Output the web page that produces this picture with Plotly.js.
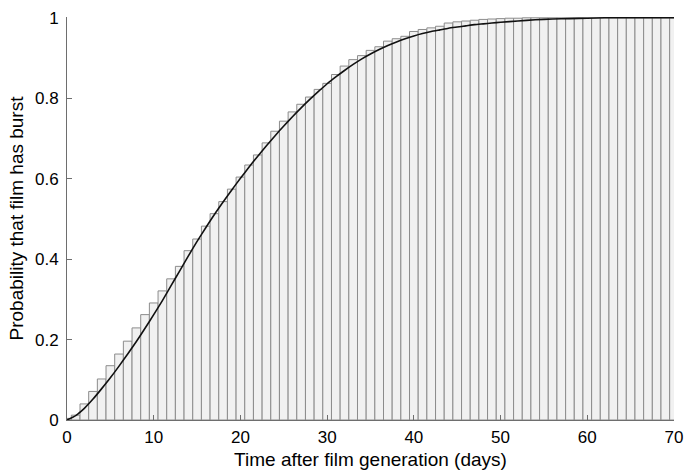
<!DOCTYPE html>
<html>
<head>
<meta charset="utf-8">
<script src="https://cdn.plot.ly/plotly-3.0.1.min.js"></script>
<style>html,body{margin:0;padding:0;background:#fff;}#chart{width:687px;height:470px;}</style>
</head>
<body>
<div id="chart"></div>
<script>
// Cumulative histogram: bin centre (days) and cumulative fraction burst
var binDays = [0,1,2,3,4,5,6,7,8,9,10,11,12,13,14,15,16,17,18,19,20,
  21,22,23,24,25,26,27,28,29,30,31,32,33,34,35,36,37,38,39,40,
  41,42,43,44,45,46,47,48,49,50,51,52,53,54,55,56,57,58,59,60,
  61,62,63,64,65,66,67,68,69,70];
var binCumFrac = [0.004,0.012,0.040,0.071,0.102,0.135,0.164,0.196,0.229,0.262,0.291,
  0.321,0.351,0.382,0.421,0.450,0.482,0.513,0.543,0.574,0.604,
  0.634,0.659,0.689,0.718,0.743,0.766,0.785,0.803,0.822,0.837,
  0.859,0.880,0.896,0.906,0.919,0.928,0.942,0.948,0.954,0.966,
  0.971,0.975,0.979,0.987,0.990,0.992,0.994,0.996,0.997,0.998,
  0.999,0.999,1,1,1,1,1,1,1,1,
  1,1,1,1,1,1,1,1,1,1];

// Fitted distribution curve
var fitDays = [0,1,2,3,4,5,6,7,8,9,10,11,12,13,14,15,16,17,18,19,20,
  21,22,23,24,25,26,27,28,29,30,31,32,33,34,35,36,37,38,39,40,
  41,42,43,44,45,46,47,48,49,50,52,54,56,58,60,62,66,70];
var fitCumFrac = [0,0.011,0.029,0.052,0.078,0.105,0.134,0.164,0.195,0.228,0.262,
  0.297,0.334,0.371,0.408,0.444,0.478,0.511,0.542,0.572,0.601,
  0.629,0.656,0.682,0.707,0.731,0.754,0.776,0.797,0.817,0.836,
  0.853,0.869,0.884,0.898,0.910,0.921,0.931,0.940,0.948,0.955,
  0.961,0.966,0.970,0.974,0.977,0.980,0.983,0.985,0.987,0.989,
  0.992,0.995,0.997,0.998,0.999,1,1,1];

var xTicks = [0,10,20,30,40,50,60,70];
var yTicks = [0,0.2,0.4,0.6,0.8,1];
var xTitle = 'Time after film generation (days)';
var yTitle = 'Probability that film has burst';

var axisColor = '#6e6e6e';
var font = 'Liberation Sans, Arial, Helvetica, sans-serif';

var traces = [
  {
    type: 'bar',
    x: binDays,
    y: binCumFrac,
    width: 1,
    marker: {color: '#f1f1f1', line: {color: '#8c8c8c', width: 1}},
    hoverinfo: 'x+y'
  },
  {
    type: 'scatter',
    mode: 'lines',
    x: fitDays,
    y: fitCumFrac,
    line: {color: '#111111', width: 1.6, shape: 'spline', smoothing: 0.6},
    hoverinfo: 'x+y'
  }
];

var layout = {
  width: 687,
  height: 470,
  margin: {l: 67, r: 13, t: 17, b: 50, pad: 0},
  paper_bgcolor: '#ffffff',
  plot_bgcolor: '#ffffff',
  showlegend: false,
  bargap: 0,
  font: {family: font, color: '#000000', size: 17},
  xaxis: {
    range: [0, 70],
    tickvals: xTicks,
    ticktext: xTicks.map(String),
    ticks: 'inside',
    ticklen: 5,
    tickcolor: axisColor,
    showline: true,
    linecolor: axisColor,
    linewidth: 1,
    showgrid: false,
    zeroline: false,
    mirror: false,
    tickfont: {family: font, size: 17, color: '#000'},
    ticklabelstandoff: 2,
    title: {text: xTitle, font: {family: font, size: 19, color: '#000'}, standoff: 6}
  },
  yaxis: {
    range: [0, 1.002],
    tickvals: yTicks,
    ticktext: yTicks.map(String),
    ticks: 'inside',
    ticklen: 5,
    tickcolor: axisColor,
    showline: true,
    linecolor: axisColor,
    linewidth: 1,
    showgrid: false,
    zeroline: false,
    mirror: false,
    tickfont: {family: font, size: 17, color: '#000'},
    ticklabelstandoff: 4,
    title: {text: yTitle, font: {family: font, size: 19, color: '#000'}, standoff: 6}
  }
};

Plotly.newPlot('chart', traces, layout, {displayModeBar: false, staticPlot: true});
</script>
</body>
</html>
